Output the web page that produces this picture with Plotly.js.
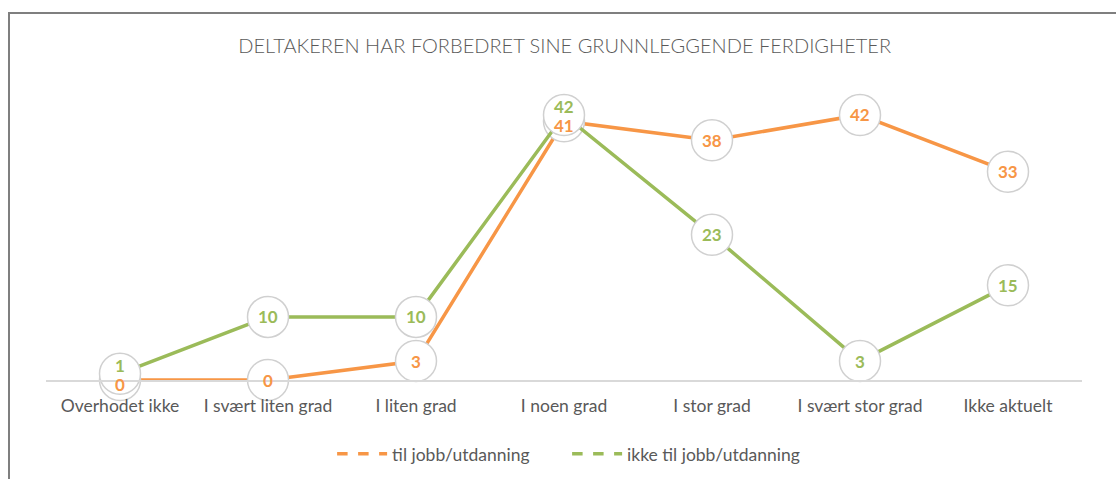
<!DOCTYPE html>
<html>
<head>
<meta charset="utf-8">
<script src="https://cdn.plot.ly/plotly-3.0.1.min.js"></script>
<style>
  html, body { margin: 0; padding: 0; background: #fff; }
  #wrap { position: relative; width: 1116px; height: 479px; }
  #chart { position: absolute; left: 0; top: 0; width: 1116px; height: 479px; }
  #frame { position: absolute; left: 8px; top: 12px; width: 1120px; height: 480px;
           border-left: 2px solid #7f7f7f; border-top: 2px solid #7f7f7f; pointer-events: none; }
</style>
</head>
<body>
<div id="wrap">
  <div id="chart"></div>
  <div id="frame"></div>
</div>
<script>
const categories = ["Overhodet ikke", "I svært liten grad", "I liten grad", "I noen grad", "I stor grad", "I svært stor grad", "Ikke aktuelt"];
const seriesNames = ["til jobb/utdanning", "ikke til jobb/utdanning"];
const tilJobb = [0, 0, 3, 41, 38, 42, 33];
const ikkeTilJobb = [1, 10, 10, 42, 23, 3, 15];
const chartTitle = "DELTAKEREN HAR FORBEDRET SINE GRUNNLEGGENDE FERDIGHETER";

const ORANGE = "#F79646";
const GREEN = "#9BBB59";
const GREY = "#595959";
const FONT = "Lato, 'Open Sans', sans-serif";

function lineTrace(y, color) {
  return {
    type: "scatter", mode: "lines+markers", x: categories, y: y,
    line: { color: color, width: 3.5 },
    marker: { size: 41, color: "#ffffff", line: { color: "#d0d0d0", width: 1.5 } },
    showlegend: false, hoverinfo: "skip", cliponaxis: false
  };
}
function legendTrace(name, color) {
  return {
    type: "scatter", mode: "lines", x: [null], y: [null], name: name,
    line: { color: color, width: 3.5, dash: "dash" }, showlegend: true
  };
}

// data labels: when the two series nearly coincide, nudge the higher label up
// and the lower label down so both stay readable (as the reference does)
const annotations = [];
categories.forEach((c, i) => {
  const a = tilJobb[i], b = ikkeTilJobb[i];
  const close = Math.abs(a - b) <= 2;
  [[a, b, ORANGE], [b, a, GREEN]].forEach(([v, other, col]) => {
    let shift = 0;
    if (close) shift = v >= other ? 8 : -4;
    annotations.push({
      x: c, y: v, xref: "x", yref: "y", text: String(v), showarrow: false,
      yshift: shift, font: { family: FONT, size: 17, color: col, weight: "bold" }
    });
  });
});

const data = [
  lineTrace(tilJobb, ORANGE),
  lineTrace(ikkeTilJobb, GREEN),
  legendTrace(seriesNames[0], ORANGE),
  legendTrace(seriesNames[1], GREEN)
];

const layout = {
  width: 1116, height: 479,
  paper_bgcolor: "rgba(0,0,0,0)", plot_bgcolor: "rgba(0,0,0,0)",
  margin: { l: 46, r: 34, t: 96, b: 99, autoexpand: false },
  title: { text: chartTitle, x: 0.506, xanchor: "center", y: 0.904, yanchor: "middle",
           font: { family: FONT, size: 20, color: GREY, weight: 300 } },
  xaxis: {
    type: "category", range: [-0.5, 6.5], showgrid: false, zeroline: false,
    showline: true, linecolor: "#d9d9d9", linewidth: 1.5,
    ticks: "outside", ticklen: 9, tickcolor: "rgba(0,0,0,0)",
    tickfont: { family: FONT, size: 17.5, color: GREY }, fixedrange: true
  },
  yaxis: { range: [0, 45], visible: false, showgrid: false, zeroline: false, fixedrange: true },
  annotations: annotations,
  showlegend: true,
  legend: { orientation: "h", x: 0.503, xanchor: "center", y: -0.26, yanchor: "middle",
            font: { family: FONT, size: 17.5, color: GREY }, itemwidth: 50,
            entrywidth: 170, entrywidthmode: "pixels", tracegroupgap: 0 },
  hovermode: false
};

Plotly.newPlot("chart", data, layout, { displayModeBar: false, staticPlot: true });
</script>
</body>
</html>
